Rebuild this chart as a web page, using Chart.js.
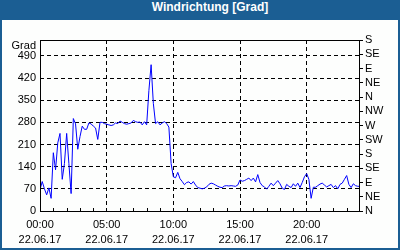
<!DOCTYPE html>
<html lang="de">
<head>
    <meta charset="UTF-8">
    <title>Windrichtung</title>
    <script src="https://cdn.jsdelivr.net/npm/chart.js"></script>
    <style>
        html, body { margin: 0; padding: 0; background: #fff; }
        #frame {
            position: relative;
            width: 396px;
            height: 248px;
            border: 2px solid #1b5e93;
            border-top: 0;
            background: #fdfefd;
        }
        #title {
            height: 20px;
            line-height: 20px;
            background: #1b5e93;
            color: #fff;
            font: bold 12px "Liberation Sans", Arial, sans-serif;
            text-align: center;
            padding-left: 20px;
            margin: 0 -2px;
        }
        canvas { display: block; }
    </style>
</head>
<body>
    <div id="frame">
        <div id="title">Windrichtung [Grad]</div>
        <canvas id="windChart" width="396" height="228"></canvas>
    </div>

    <script>
        // one reading every 10 minutes, 00:00 to 24:00
        const stepMinutes = 10;
        const values = [
            67, 93, 70, 51, 73, 40, 184, 130, 215, 245,
            100, 150, 245, 150, 55, 292, 275, 195, 235, 268,
            258, 258, 278, 275, 268, 262, 226, 280, 280, 276,
            274, 272, 270, 272, 278, 276, 284, 280, 276, 274,
            276, 278, 286, 282, 280, 281, 272, 282, 272, 380,
            462, 340, 276, 282, 272, 278, 282, 276, 265, 150,
            108, 105, 122, 102, 93, 83, 90, 92, 85, 93,
            82, 74, 72, 70, 72, 76, 84, 88, 86, 82,
            78, 75, 74, 79, 80, 79, 80, 79, 78, 82,
            98, 94, 96, 100, 104, 96, 104, 92, 115, 90,
            80, 76, 69, 78, 88, 80, 88, 96, 86, 72,
            68, 84, 78, 74, 86, 78, 88, 74, 90, 108,
            118, 100, 40, 75, 75, 80, 85, 88, 82, 76,
            80, 84, 74, 80, 70, 84, 88, 100, 112, 84,
            74, 86, 80, 78, 78
        ];
        const timeLabels = ['00:00', '05:00', '10:00', '15:00', '20:00'];
        const dateLabel = '22.06.17';
        const compassLabels = ['N', 'NE', 'E', 'SE', 'S', 'SW', 'W', 'NW', 'N', 'NE', 'E', 'SE', 'S'];

        Chart.defaults.font.family = '"Liberation Sans", Arial, sans-serif';
        Chart.defaults.font.size = 11;
        Chart.defaults.color = '#000';

        const dash = [4, 3];

        const framePlugin = {
            id: 'frame',
            afterDraw(chart) {
                const { ctx, chartArea: a } = chart;
                ctx.save();
                ctx.strokeStyle = '#000';
                ctx.lineWidth = 1;
                ctx.setLineDash([]);
                ctx.strokeRect(a.left + 0.5, a.top + 0.5, a.right - a.left - 1, a.bottom - a.top);
                // hourly ticks pointing into the plot
                const x = chart.scales.x;
                ctx.beginPath();
                for (let h = 1; h < 24; h++) {
                    if (h % 5 === 0) continue;
                    const px = Math.round(x.getPixelForValue(h)) + 0.5;
                    ctx.moveTo(px, a.bottom);
                    ctx.lineTo(px, a.bottom - 3);
                }
                ctx.stroke();
                ctx.fillStyle = '#000';
                ctx.font = '11px "Liberation Sans", Arial, sans-serif';
                ctx.textAlign = 'right';
                ctx.textBaseline = 'middle';
                ctx.fillText('Grad', a.left - 4, a.top + 6);
                ctx.restore();
            }
        };

        new Chart(document.getElementById('windChart'), {
            type: 'line',
            data: {
                datasets: [{
                    data: values.map((v, i) => ({ x: i * stepMinutes / 60, y: v })),
                    borderColor: '#0000ff',
                    borderWidth: 1,
                    pointRadius: 0,
                    tension: 0,
                    yAxisID: 'y'
                }]
            },
            options: {
                responsive: false,
                animation: false,
                devicePixelRatio: 1,
                layout: { padding: { top: 20 } },
                plugins: { legend: { display: false }, tooltip: { enabled: false } },
                scales: {
                    x: {
                        type: 'linear',
                        min: 0,
                        max: 24,
                        afterFit: (s) => { s.height = 37; },
                        ticks: {
                            stepSize: 5,
                            includeBounds: false,
                            autoSkip: false,
                            maxRotation: 0,
                            padding: 7,
                            font: { lineHeight: 1.34 },
                            callback: (v) => [timeLabels[v / 5], dateLabel]
                        },
                        grid: { color: '#000', lineWidth: 1, drawTicks: false, borderDash: dash },
                        border: { display: false, dash: dash }
                    },
                    y: {
                        position: 'left',
                        min: 0,
                        max: 540,
                        afterFit: (s) => { s.width = 38; },
                        ticks: { stepSize: 70, includeBounds: false, autoSkip: false, padding: 4 },
                        grid: { color: '#000', lineWidth: 1, drawTicks: false, borderDash: dash },
                        border: { display: false, dash: dash }
                    },
                    y2: {
                        position: 'right',
                        min: 0,
                        max: 540,
                        afterFit: (s) => { s.width = 38; },
                        ticks: {
                            stepSize: 45,
                            autoSkip: false,
                            padding: 2,
                            callback: (v) => compassLabels[Math.round(v / 45)]
                        },
                        grid: { drawOnChartArea: false, tickLength: 3, tickColor: '#000' },
                        border: { display: false }
                    }
                }
            },
            plugins: [framePlugin]
        });
    </script>
</body>
</html>
